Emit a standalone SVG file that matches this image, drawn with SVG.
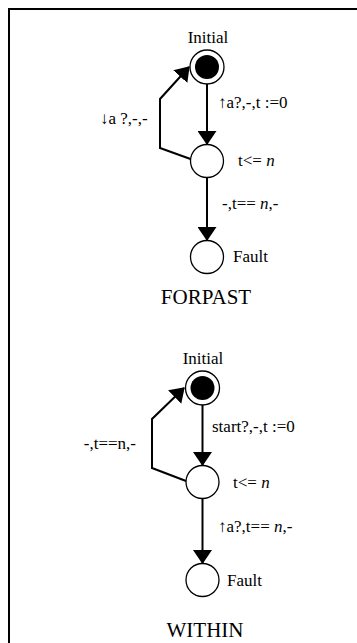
<svg xmlns="http://www.w3.org/2000/svg" width="357" height="643" viewBox="0 0 357 643">
<defs>
<style>
text{font-family:"Liberation Serif","Times New Roman",serif;fill:#000}
.lbl{font-size:17px}
.ttl{font-size:21px}
.st{fill:#fff;stroke:#000;stroke-width:1.3}
.edge{fill:none;stroke:#000;stroke-width:2}
</style>
<marker id="ah" markerUnits="userSpaceOnUse" markerWidth="14" markerHeight="19" viewBox="0 0 14 19" refX="13" refY="9.5" orient="auto">
<path d="M0,0 L14,9.5 L0,19 z" fill="#000"/>
</marker>
</defs>
<rect x="9" y="9" width="400" height="700" fill="none" stroke="#000" stroke-width="2"/>
<g id="connectors">
<line class="edge" x1="207" y1="84" x2="207" y2="144" marker-end="url(#ah)"/>
<line class="edge" x1="207" y1="178" x2="207" y2="240" marker-end="url(#ah)"/>
<polyline class="edge" points="190.5,159 160,148 160,99 189,67" marker-end="url(#ah)"/>
<line class="edge" x1="202.5" y1="405" x2="202.5" y2="465" marker-end="url(#ah)"/>
<line class="edge" x1="202.5" y1="499" x2="202.5" y2="563" marker-end="url(#ah)"/>
<polyline class="edge" points="186,481 152,468 152,419 184,388" marker-end="url(#ah)"/>
</g>
<g id="forpast-initial">
<circle class="st" cx="207" cy="67" r="17"/>
<circle cx="207" cy="67" r="12" fill="#000"/>
<text class="lbl" x="208" y="43" text-anchor="middle">Initial</text>
</g>
<g id="forpast-wait">
<circle class="st" cx="207" cy="161" r="16.5"/>
<text class="lbl" x="238" y="166">t&lt;= <tspan font-style="italic">n</tspan></text>
</g>
<g id="forpast-fault">
<circle class="st" cx="207" cy="257" r="16.5"/>
<text class="lbl" x="233" y="262">Fault</text>
</g>
<g id="forpast-labels">
<text class="lbl" x="218" y="108">↑a?,-,t :=0</text>
<text class="lbl" x="100" y="124">↓a ?,-,-</text>
<text class="lbl" x="222" y="209">-,t== <tspan font-style="italic">n</tspan>,-</text>
<text class="ttl" x="206" y="304" text-anchor="middle">FORPAST</text>
</g>
<g id="within-initial">
<circle class="st" cx="202.5" cy="388" r="17"/>
<circle cx="202.5" cy="388" r="12" fill="#000"/>
<text class="lbl" x="203" y="364" text-anchor="middle">Initial</text>
</g>
<g id="within-wait">
<circle class="st" cx="202.5" cy="482" r="16.5"/>
<text class="lbl" x="233" y="488">t&lt;= <tspan font-style="italic">n</tspan></text>
</g>
<g id="within-fault">
<circle class="st" cx="202.5" cy="580" r="16.5"/>
<text class="lbl" x="227" y="586">Fault</text>
</g>
<g id="within-labels">
<text class="lbl" x="212" y="432">start?,-,t :=0</text>
<text class="lbl" x="136" y="449" text-anchor="end">-,t==n,-</text>
<text class="lbl" x="218" y="532">↑a?,t== <tspan font-style="italic">n</tspan>,-</text>
<text class="ttl" x="205" y="637" text-anchor="middle">WITHIN</text>
</g>
</svg>
